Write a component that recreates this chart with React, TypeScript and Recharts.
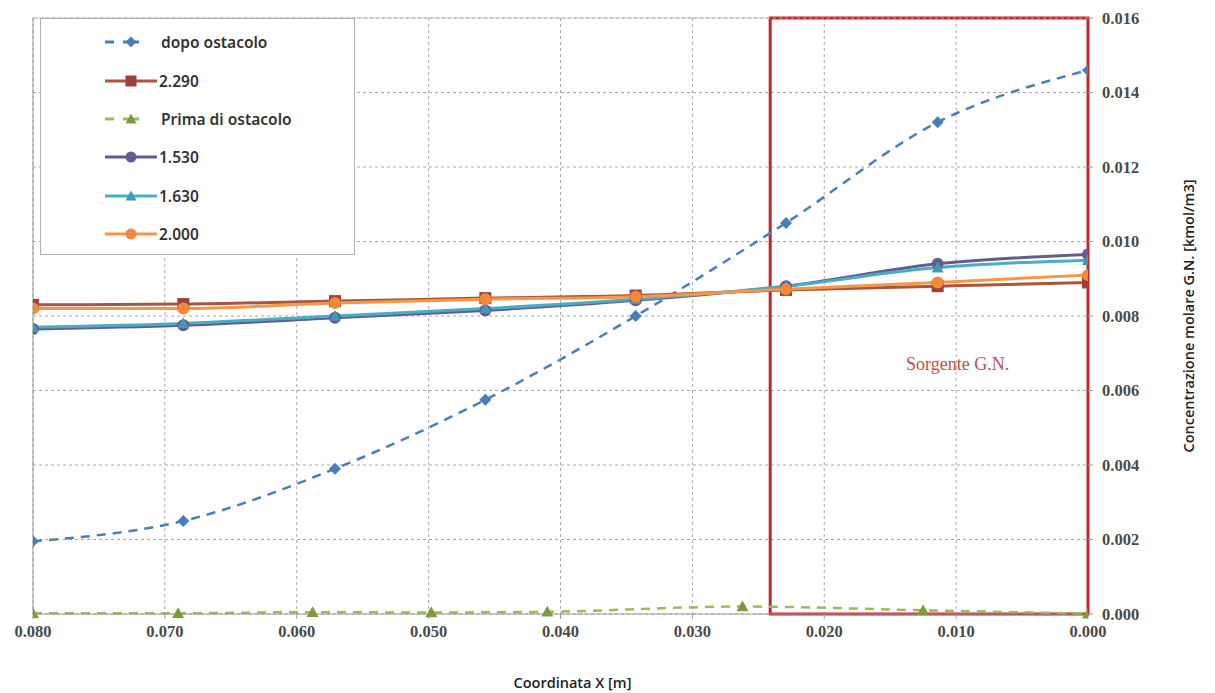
import React from "react";
import {
  CartesianGrid,
  Legend,
  Line,
  LineChart,
  ReferenceArea,
  ReferenceLine,
  XAxis,
  YAxis,
} from "recharts";

// x positions (m) of the sampled points
const xCoords = [0.08, 0.0686, 0.0571, 0.0457, 0.0343, 0.0229, 0.0114, 0];
const xPrima = [0.08, 0.069, 0.0588, 0.0498, 0.041, 0.0262, 0.0125, 0];

const dopoOstacolo = [0.00195, 0.0025, 0.0039, 0.00575, 0.008, 0.0105, 0.0132, 0.0146];
const s2290 = [0.0083, 0.00832, 0.0084, 0.00848, 0.00855, 0.0087, 0.0088, 0.0089];
const primaOstacolo = [0.00002, 0.00002, 0.00005, 0.00004, 0.00006, 0.0002, 0.0001, 0.00001];
const s1530 = [0.00765, 0.00775, 0.00795, 0.00815, 0.00842, 0.0088, 0.0094, 0.00965];
const s1630 = [0.0077, 0.0078, 0.008, 0.0082, 0.00845, 0.0088, 0.0093, 0.0095];
const s2000 = [0.0082, 0.0082, 0.00835, 0.00845, 0.00852, 0.00872, 0.0089, 0.0091];

const xTicks = [0, 0.01, 0.02, 0.03, 0.04, 0.05, 0.06, 0.07, 0.08];
const yTicks = [0, 0.002, 0.004, 0.006, 0.008, 0.01, 0.012, 0.014, 0.016];

const sourceStart = 0.0241;

const toPoints = (xs: number[], ys: number[]) => xs.map((x, i) => ({ x, y: ys[i] }));

type Shape = "diamond" | "square" | "triangle" | "circle";

interface SeriesDef {
  name: string;
  data: { x: number; y: number }[];
  color: string;
  marker: string;
  shape: Shape;
  dashed: boolean;
}

const SERIES: SeriesDef[] = [
  { name: "dopo ostacolo", data: toPoints(xCoords, dopoOstacolo), color: "#4A7EBB", marker: "#4A7EBB", shape: "diamond", dashed: true },
  { name: "2.290", data: toPoints(xCoords, s2290), color: "#A8563F", marker: "#A0403C", shape: "square", dashed: false },
  { name: "Prima di ostacolo", data: toPoints(xPrima, primaOstacolo), color: "#9BBB59", marker: "#7E9B3C", shape: "triangle", dashed: true },
  { name: "1.530", data: toPoints(xCoords, s1530), color: "#5F5E8E", marker: "#6A5A90", shape: "circle", dashed: false },
  { name: "1.630", data: toPoints(xCoords, s1630), color: "#4BACC6", marker: "#3E9AB5", shape: "triangle", dashed: false },
  { name: "2.000", data: toPoints(xCoords, s2000), color: "#F79646", marker: "#F08A38", shape: "circle", dashed: false },
];

const markerPath = (shape: Shape, cx: number, cy: number, r: number, fill: string, key?: string) => {
  switch (shape) {
    case "diamond":
      return <polygon key={key} points={`${cx},${cy - r} ${cx + r},${cy} ${cx},${cy + r} ${cx - r},${cy}`} fill={fill} />;
    case "square":
      return <rect key={key} x={cx - r} y={cy - r} width={2 * r} height={2 * r} fill={fill} />;
    case "triangle":
      return <polygon key={key} points={`${cx},${cy - r} ${cx + r},${cy + r * 0.8} ${cx - r},${cy + r * 0.8}`} fill={fill} />;
    default:
      return <circle key={key} cx={cx} cy={cy} r={r} fill={fill} />;
  }
};

const makeDot = (s: SeriesDef) => (props: any) => {
  const { cx, cy, index } = props;
  if (cx == null || cy == null) return <g key={`d-${index}`} />;
  return markerPath(s.shape, cx, cy, 6, s.marker, `${s.name}-${index}`);
};

const fmt = (v: number) => v.toFixed(3);

const LegendBox = () => (
  <div
    style={{
      width: 315,
      height: 237,
      border: "1px solid #b0b0b0",
      background: "#fff",
      boxSizing: "border-box",
      paddingTop: 4,
    }}
  >
    {SERIES.map((s) => (
      <div key={s.name} style={{ display: "flex", alignItems: "center", height: 38.4 }}>
        <svg width={120} height={20} style={{ flexShrink: 0 }}>
          {s.dashed ? (
            <>
              <line x1={64} x2={73} y1={10} y2={10} stroke={s.color} strokeWidth={3} />
              <line x1={82} x2={98} y1={10} y2={10} stroke={s.color} strokeWidth={3} />
            </>
          ) : (
            <line x1={64} x2={116} y1={10} y2={10} stroke={s.color} strokeWidth={3} />
          )}
          {markerPath(s.shape, 90, 10, 5.5, s.marker)}
        </svg>
        <span
          style={{
            fontFamily: "'Noto Sans', sans-serif",
            fontWeight: 600,
            fontSize: 15.5,
            color: "#333",
            marginLeft: s.dashed ? 0 : -2,
          }}
        >
          {s.name}
        </span>
      </div>
    ))}
  </div>
);

const SourceLabel = (props: any) => {
  const vb = props.viewBox;
  if (!vb) return null;
  return (
    <text
      x={vb.x + vb.width * 0.59}
      y={vb.y + vb.height * 0.59}
      textAnchor="middle"
      fill="#C0504D"
      fontFamily="'Liberation Serif', serif"
      fontSize={18}
    >
      Sorgente G.N.
    </text>
  );
};

const YTitle = (props: any) => {
  const vb = props.viewBox;
  if (!vb) return null;
  const x = vb.x + 102;
  const y = vb.y + vb.height / 2;
  return (
    <text
      x={x}
      y={y}
      transform={`rotate(-90, ${x}, ${y})`}
      textAnchor="middle"
      dominantBaseline="middle"
      fill="#222"
      fontFamily="'Open Sans', sans-serif"
      fontWeight={600}
      fontSize={14.5}
    >
      Concentrazione molare G.N. [kmol/m3]
    </text>
  );
};

const XTitle = (props: any) => {
  const vb = props.viewBox;
  if (!vb) return null;
  return (
    <text
      x={vb.x + vb.width / 2 + 12}
      y={vb.y + 70}
      textAnchor="middle"
      dominantBaseline="middle"
      fill="#222"
      fontFamily="'Open Sans', sans-serif"
      fontWeight={600}
      fontSize={14.5}
    >
      Coordinata X [m]
    </text>
  );
};

const tickStyle = {
  fontFamily: "'Liberation Serif', serif",
  fontSize: 16.5,
  fontWeight: 700,
  fill: "#4a4a4a",
};

export default function App() {
  return (
    <div style={{ position: "absolute", left: 0, top: 0, background: "#fff" }}>
      <LineChart width={1215} height={693} margin={{ top: 18, right: 15, bottom: 29, left: 33 }}>
        <CartesianGrid stroke="#a8a8a8" strokeDasharray="3 3" />
        <XAxis
          type="number"
          dataKey="x"
          domain={[0, 0.08]}
          reversed
          ticks={xTicks}
          tickFormatter={fmt}
          allowDataOverflow
          height={50}
          tick={tickStyle}
          tickSize={5}
          tickMargin={6}
          stroke="#999"
          label={<XTitle />}
        />
        <YAxis
          type="number"
          orientation="right"
          domain={[0, 0.016]}
          ticks={yTicks}
          tickFormatter={fmt}
          width={112}
          tick={{ ...tickStyle, textAnchor: "start" }}
          tickSize={5}
          tickMargin={9}
          axisLine={false}
          stroke="#999"
          label={<YTitle />}
        />
        <ReferenceLine x={0.08} stroke="#999" strokeWidth={1} />
        <ReferenceLine y={0.016} stroke="#a8a8a8" strokeDasharray="3 3" />
        <Legend
          layout="vertical"
          align="center"
          verticalAlign="middle"
          wrapperStyle={{ left: 40, top: 18, width: 315, height: 237 }}
          content={<LegendBox />}
        />
        {SERIES.map((s) => (
          <Line
            key={s.name}
            data={s.data}
            dataKey="y"
            name={s.name}
            type="monotone"
            stroke={s.color}
            strokeWidth={s.dashed ? 2.5 : 3}
            strokeDasharray={s.dashed ? "9 7" : undefined}
            dot={makeDot(s)}
            activeDot={false}
            isAnimationActive={false}
          />
        ))}
        <ReferenceArea
          x1={sourceStart}
          x2={0}
          y1={0}
          y2={0.016}
          stroke="#C0282D"
          strokeWidth={3}
          fill="none"
          fillOpacity={0}
          ifOverflow="visible"
          label={<SourceLabel />}
        />
      </LineChart>
    </div>
  );
}
